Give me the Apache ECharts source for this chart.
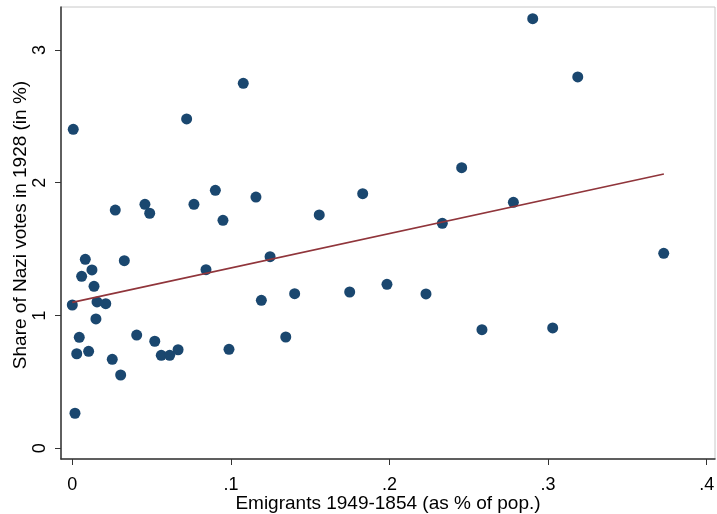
<!DOCTYPE html>
<html>
<head>
<meta charset="utf-8">
<script src="https://cdn.jsdelivr.net/npm/echarts@6/dist/echarts.min.js"></script>
<style>
  html, body { margin: 0; padding: 0; background: #fff; }
  #chart { width: 717px; height: 514px; }
</style>
</head>
<body>
<div id="chart"></div>
<script>
// emigrants 1949-1854 (% of pop.) per county
var emigrants = [0.0006, 0.0017, 0.0, 0.0028, 0.0044, 0.0059, 0.0082, 0.0103, 0.0124, 0.0137,
  0.0149, 0.0156, 0.0211, 0.0252, 0.0271, 0.0305, 0.0328, 0.0406, 0.0458, 0.0488,
  0.0520, 0.0561, 0.0614, 0.0667, 0.0721, 0.0767, 0.0843, 0.0902, 0.0950, 0.0988,
  0.1078, 0.1158, 0.1192, 0.1247, 0.1346, 0.1402, 0.1557, 0.1749, 0.1831, 0.1984,
  0.2230, 0.2333, 0.2455, 0.2583, 0.2781, 0.2903, 0.3029, 0.3187, 0.3729];
// share of nazi votes 1928 (%)
var naziShare = [2.402, 0.264, 1.079, 0.712, 0.836, 1.295, 1.423, 0.730, 1.343, 1.220,
  0.974, 1.102, 1.089, 0.670, 1.794, 0.552, 1.413, 0.853, 1.837, 1.770,
  0.806, 0.700, 0.700, 0.742, 2.480, 1.837, 1.345, 1.943, 1.717, 0.745,
  2.748, 1.892, 1.114, 1.443, 0.838, 1.164, 1.757, 1.177, 1.917, 1.235,
  1.162, 1.694, 2.113, 0.893, 1.852, 3.235, 0.906, 2.796, 1.468];
// fitted line end points
var fitX = [0, 0.373];
var fitY = [1.099, 2.066];

var xTicks = [0, 0.1, 0.2, 0.3, 0.4];
var yTicks = [0, 1, 2, 3];

function stataNum(v) {
  // 0.1 -> ".1"
  var s = String(Math.round(v * 1000) / 1000);
  return s.replace(/^0\./, '.');
}

var points = [];
for (var i = 0; i < emigrants.length; i++) {
  points.push([emigrants[i], naziShare[i]]);
}
var fitLine = [];
for (var j = 0; j < fitX.length; j++) {
  fitLine.push([fitX[j], fitY[j]]);
}

var chart = echarts.init(document.getElementById('chart'));
var font = 'Liberation Sans, Arial, sans-serif';

var option = {
  backgroundColor: '#fff',
  animation: false,
  grid: {
    left: 61, top: 7, right: 2, bottom: 55,
    containLabel: false, outerBoundsMode: 'none',
    show: true, borderColor: '#c8c8c8', borderWidth: 1
  },
  xAxis: {
    type: 'value',
    min: -0.00712, max: 0.40523,
    name: 'Emigrants 1949-1854 (as % of pop.)',
    nameLocation: 'middle', nameGap: 35, nameMoveOverlap: false,
    nameTextStyle: { color: '#000', fontFamily: font, fontSize: 19 },
    splitLine: { show: false },
    axisLine: { onZero: false, lineStyle: { color: '#333', width: 1.5 } },
    axisTick: { customValues: xTicks, length: 6, lineStyle: { color: '#333' } },
    axisLabel: {
      customValues: xTicks, margin: 17, color: '#000', fontSize: 18,
      fontFamily: font,
      formatter: function (v) { return stataNum(v); }
    }
  },
  yAxis: {
    type: 'value',
    min: -0.0806, max: 3.323,
    name: 'Share of Nazi votes in 1928 (in %)',
    nameLocation: 'middle', nameGap: 31, nameMoveOverlap: false,
    nameTextStyle: { color: '#000', fontFamily: font, fontSize: 19, padding: [0, 0, 0, 16] },
    splitLine: { show: false },
    axisLine: { onZero: false, lineStyle: { color: '#333', width: 1.5 } },
    axisTick: { customValues: yTicks, length: 6, lineStyle: { color: '#333' } },
    axisLabel: {
      customValues: yTicks, margin: 12, rotate: 90, color: '#000', fontSize: 18,
      fontFamily: font,
      formatter: function (v) { return stataNum(v); }
    }
  },
  series: [
    {
      type: 'scatter',
      data: points,
      symbol: 'circle',
      symbolSize: 11,
      itemStyle: { color: '#1a476f', opacity: 1 },
      z: 2
    },
    {
      type: 'line',
      data: fitLine,
      showSymbol: false,
      lineStyle: { color: '#90353b', width: 1.6 },
      z: 3
    }
  ]
};
chart.setOption(option);
</script>
</body>
</html>
